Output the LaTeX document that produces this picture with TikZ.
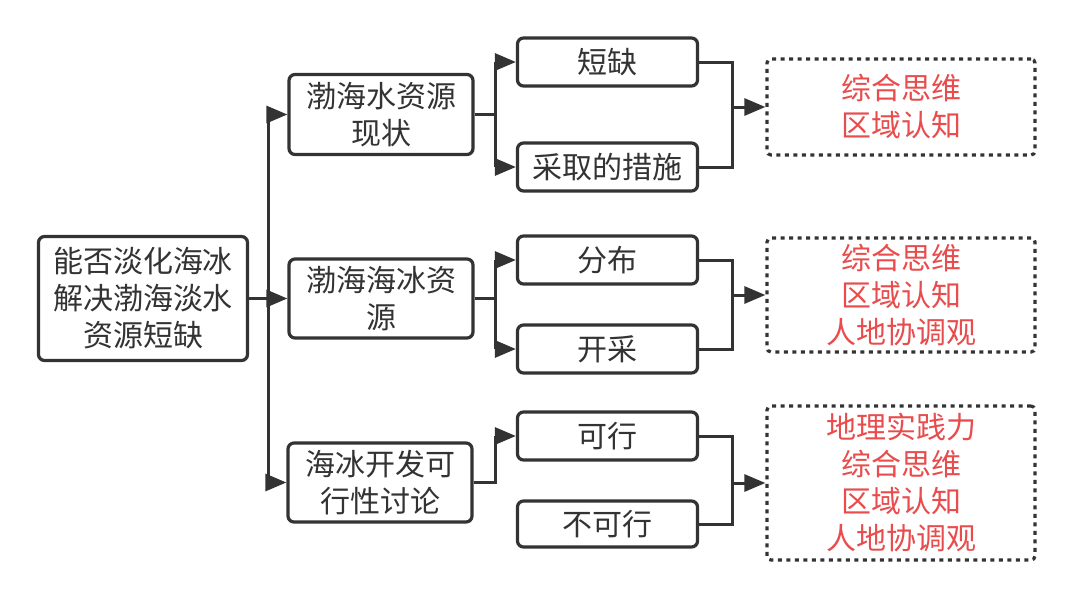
\documentclass[tikz,border=0pt]{standalone}
\usepackage{fontspec}
\setmainfont{Noto Sans CJK SC}
\usetikzlibrary{arrows.meta}
\definecolor{ln}{HTML}{333333}
\definecolor{rd}{HTML}{E84C4C}
\begin{document}
\begin{tikzpicture}[x=1pt,y=-1pt,
  box/.style={draw=ln, line width=3.2pt, rounded corners=6pt, text=ln, align=center,
    font=\fontsize{30}{37}\selectfont, inner sep=0pt, fill=white},
  dbox/.style={draw=ln, line width=3.2pt, dash pattern=on 4pt off 4.5pt, rounded corners=4pt,
    text=rd, align=center, font=\fontsize{30}{37}\selectfont, inner sep=0pt},
  lone/.style={box, minimum width=184pt, minimum height=80pt},
  ltwo/.style={box, minimum width=180pt, minimum height=48pt},
  con/.style={draw=ln, line width=3pt},
  arr/.style={con, -{Triangle[length=21pt,width=17pt]}},
]
\useasboundingbox[fill=white] (0,0) rectangle (1072,608);

% root
\node[box, minimum width=209pt, minimum height=124pt] (root) at (143,298.5) {能否淡化海冰\\解决渤海淡水\\资源短缺};

% level 1
\node[lone] (A) at (381,114.5) {渤海水资源\\现状};
\node[lone, minimum height=79pt] (B) at (381,298.5) {渤海海冰资\\源};
\node[lone, minimum height=79pt] (C) at (380,482.5) {海冰开发可\\行性讨论};

% level 2
\node[ltwo] (a1) at (607.5,62) {短缺};
\node[ltwo] (a2) at (607.5,167) {采取的措施};
\node[ltwo] (b1) at (607.5,260) {分布};
\node[ltwo] (b2) at (607.5,349) {开采};
\node[ltwo] (c1) at (607.5,436) {可行};
\node[ltwo, minimum height=46pt] (c2) at (607.5,524) {不可行};

% dashed boxes
\node[dbox, minimum width=268pt, minimum height=96pt] (DA) at (901,107) {综合思维\\区域认知};
\node[dbox, minimum width=268pt, minimum height=114pt] (DB) at (901,295) {综合思维\\区域认知\\人地协调观};
\node[dbox, minimum width=268pt, minimum height=154pt] (DC) at (901,483) {地理实践力\\综合思维\\区域认知\\人地协调观};

% helper coordinates
\coordinate (tr) at (268,0);
\coordinate (sp) at (495,0);
\coordinate (mg) at (732,0);

% trunk
\draw[con] (tr |- A.west) -- (tr |- C.west);
\draw[arr] (tr |- A.west) -- (A.west);
\draw[arr] (root.east) -- (B.west);
\draw[arr] (tr |- C.west) -- (C.west);

% group A
\draw[con] (A.east) -- (sp |- A.east);
\draw[con] (sp |- a1.west) -- (sp |- a2.west);
\draw[arr] (sp |- a1.west) -- (a1.west);
\draw[arr] (sp |- a2.west) -- (a2.west);
\draw[con] (a1.east) -- (mg |- a1.east) -- (mg |- a2.east) -- (a2.east);
\draw[arr] (mg |- DA.west) -- (DA.west);

% group B
\draw[con] (B.east) -- (sp |- B.east);
\draw[con] (sp |- b1.west) -- (sp |- b2.west);
\draw[arr] (sp |- b1.west) -- (b1.west);
\draw[arr] (sp |- b2.west) -- (b2.west);
\draw[con] (b1.east) -- (mg |- b1.east) -- (mg |- b2.east) -- (b2.east);
\draw[arr] (mg |- DB.west) -- (DB.west);

% group C
\draw[con] (C.east) -- (sp |- C.east) -- (sp |- c1.west);
\draw[arr] (sp |- c1.west) -- (c1.west);
\draw[con] (c1.east) -- (mg |- c1.east) -- (mg |- c2.east) -- (c2.east);
\draw[arr] (mg |- DC.west) -- (DC.west);
\end{tikzpicture}
\end{document}
